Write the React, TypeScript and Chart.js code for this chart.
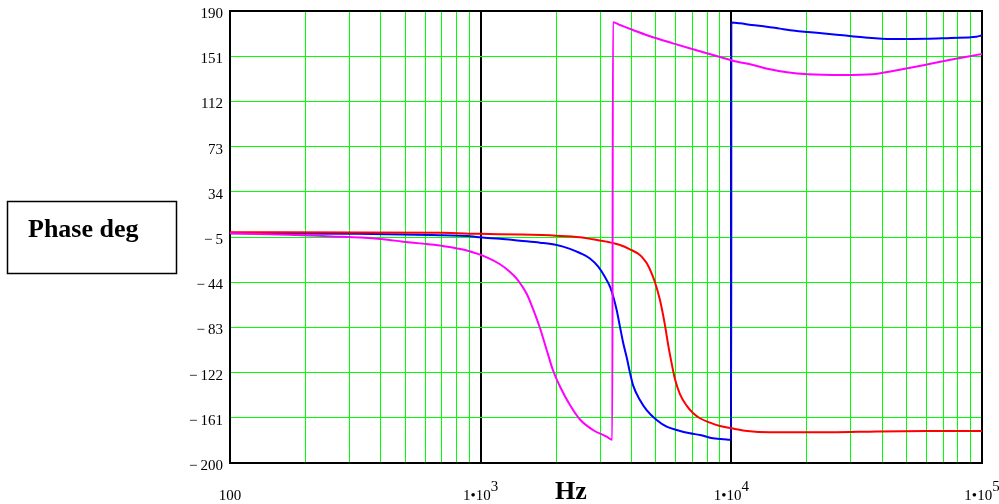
import React, { useEffect, useRef } from "react";
import { Chart, registerables } from "chart.js";

Chart.register(...registerables);

// ---- data ----
const magentaFreq = [100, 170, 255, 333, 408, 490, 573, 688, 790, 866, 949, 1069, 1194, 1300, 1392, 1526, 1617, 1724, 1834, 1943, 2072, 2271, 2490, 2805, 3181, 3350, 3371, 3595, 4051, 4868, 5850, 7028, 8446, 10148, 12196, 14257, 16668, 20209, 28000, 36712, 44113, 53014, 63711, 76549, 87063, 100000];
const magentaPhase = [-1.8, -3.0, -4.5, -5.5, -7.0, -9.0, -10.5, -12.3, -14.5, -16.2, -18.8, -23, -28.5, -34.5, -41, -54, -67, -83.5, -102.5, -120, -134, -150, -162.5, -171.5, -177.3, -180, 180.2, 177.9, 173.6, 167.3, 162.1, 157, 152, 147.1, 143.4, 139.7, 137.1, 135.4, 134.8, 135.4, 138.2, 141.4, 144.9, 148.3, 150.6, 152.9];

const blueFreq = [100, 324, 634, 932, 994, 1194, 1435, 1724, 2010, 2271, 2490, 2729, 2945, 3132, 3280, 3381, 3488, 3595, 3706, 3824, 3941, 4063, 4318, 4593, 5036, 5521, 6052, 6839, 7497, 8446, 9606, 9990, 10000, 10822, 12050, 13829, 15628, 17937, 20209, 23997, 27866, 33488, 43590, 60000, 75000, 95000, 100000];
const bluePhase = [-1.8, -2.2, -3.3, -4.5, -5.3, -6.5, -8.2, -9.9, -11.9, -15.2, -18.8, -23.5, -30.6, -39.5, -47.9, -56.5, -68, -82.4, -96.7, -108.8, -122, -133.5, -145.6, -154.3, -162.9, -168.7, -171.5, -174.4, -175.8, -178.7, -179.8, -180, 180, 179.4, 177.9, 176.5, 174.8, 173, 171.9, 170.4, 169, 167.3, 165.8, 166, 166.8, 167.8, 169];

const redFreq = [100, 700, 994, 1435, 2000, 2490, 2805, 3181, 3595, 3941, 4318, 4450, 4593, 4734, 4958, 5191, 5435, 5602, 5780, 5957, 6237, 6633, 7047, 7497, 8217, 9006, 10028, 11332, 14257, 25000, 38000, 60000, 100000];
const redPhase = [-0.9, -1.4, -2.3, -2.9, -3.9, -5.2, -7, -9, -11.9, -15.6, -20.5, -23.5, -27.5, -33, -44, -59.4, -81, -98.5, -114, -127.5, -140.5, -150.5, -157.1, -161.4, -165.2, -168.1, -170.1, -172.1, -173.5, -173.5, -172.8, -172.4, -172.4];

const yTickValues = [-200, -161, -122, -83, -44, -5, 34, 73, 112, 151, 190];
const xDecades = [100, 1000, 10000, 100000];
const xTickLabelBase = ["100", "1\u202210", "1\u202210", "1\u202210"];
const xTickLabelExp = ["", "3", "4", "5"];
const xTitle = "Hz";
const yTitle = "Phase deg";

const SERIF = '"Liberation Serif", "Times New Roman", serif';

const toPoints = (fx: number[], py: number[]) => fx.map((f, i) => ({ x: f, y: py[i] }));

const xGridValues: number[] = [];
for (let d = 0; d < xDecades.length - 1; d++) {
  for (let m = 1; m <= 9; m++) xGridValues.push(xDecades[d] * m);
}
xGridValues.push(xDecades[xDecades.length - 1]);

const overlayPlugin = {
  id: "overlay",
  beforeDatasetsDraw(chart: any) {
    const { ctx, chartArea } = chart;
    ctx.save();
    ctx.strokeStyle = "#000";
    ctx.lineWidth = 2;
    ctx.strokeRect(chartArea.left, chartArea.top, chartArea.right - chartArea.left, chartArea.bottom - chartArea.top);
    ctx.restore();
  },
  afterDraw(chart: any) {
    const { ctx } = chart;
    const xs = chart.scales.x;
    ctx.save();
    ctx.fillStyle = "#000";
    ctx.textBaseline = "alphabetic";
    ctx.textAlign = "left";
    ctx.font = "15px " + SERIF;
    xDecades.forEach((v, i) => {
      const px = xs.getPixelForValue(v);
      const base = xTickLabelBase[i];
      const exp = xTickLabelExp[i];
      const w1 = ctx.measureText(base).width;
      const w2 = exp ? ctx.measureText(exp).width : 0;
      const start = px - (w1 + w2) / 2;
      ctx.fillText(base, start, 500);
      if (exp) ctx.fillText(exp, start + w1, 491);
    });
    ctx.font = "bold 26px " + SERIF;
    ctx.textAlign = "center";
    ctx.fillText(xTitle, 571, 499);
    ctx.lineWidth = 1.5;
    ctx.strokeStyle = "#000";
    ctx.strokeRect(7.5, 201.5, 169, 72);
    ctx.textAlign = "left";
    ctx.fillText(yTitle, 28, 237);
    ctx.restore();
  },
};

export default function App() {
  const ref = useRef<HTMLCanvasElement>(null);
  useEffect(() => {
    if (!ref.current) return;
    const chart = new Chart(ref.current, {
      type: "line",
      data: {
        datasets: [
          { data: toPoints(magentaFreq, magentaPhase), borderColor: "#ff00ff", borderWidth: 2 },
          { data: toPoints(redFreq, redPhase), borderColor: "#ff0000", borderWidth: 2 },
          { data: toPoints(blueFreq, bluePhase), borderColor: "#0000ff", borderWidth: 2 },
        ] as any,
      },
      options: {
        responsive: false,
        animation: false,
        devicePixelRatio: 1,
        parsing: false as any,
        elements: {
          point: { radius: 0 },
          line: { tension: 0, fill: false, cubicInterpolationMode: "monotone" },
        },
        layout: { padding: { top: 11, right: 17, bottom: 0, left: 0 } },
        plugins: { legend: { display: false }, tooltip: { enabled: false } },
        scales: {
          x: {
            type: "logarithmic",
            min: 100,
            max: 100000,
            afterBuildTicks: (s: any) => {
              s.ticks = xGridValues.map((v) => ({ value: v }));
            },
            afterFit: (s: any) => {
              s.height = 41;
              s.paddingLeft = 0;
              s.paddingRight = 0;
            },
            ticks: { display: false },
            border: { display: false },
            grid: {
              drawTicks: false,
              color: (c: any) => {
                const v = c.tick ? c.tick.value : 0;
                if (v === 100 || v === 100000) return "rgba(0,0,0,0)";
                if (v === 1000 || v === 10000) return "#000000";
                return "#00ff00";
              },
              lineWidth: (c: any) => {
                const v = c.tick ? c.tick.value : 0;
                return v === 1000 || v === 10000 ? 2 : 1;
              },
            },
          },
          y: {
            type: "linear",
            min: -200,
            max: 190,
            afterBuildTicks: (s: any) => {
              s.ticks = yTickValues.map((v) => ({ value: v }));
            },
            afterFit: (s: any) => {
              s.width = 230;
              s.paddingTop = 0;
              s.paddingBottom = 0;
            },
            ticks: {
              color: "#000",
              font: { family: SERIF, size: 15 },
              padding: 7,
              labelOffset: 3,
              autoSkip: false,
              callback: (v: any) => (v < 0 ? "\u2212\u2009" + Math.abs(v) : String(v)),
            },
            border: { display: false },
            grid: {
              drawTicks: false,
              color: (c: any) => {
                const v = c.tick ? c.tick.value : 0;
                if (v === -200 || v === 190) return "rgba(0,0,0,0)";
                return "#00ff00";
              },
              lineWidth: 1,
            },
          },
        },
      } as any,
      plugins: [overlayPlugin],
    });
    return () => chart.destroy();
  }, []);
  return (
    <canvas
      ref={ref}
      width={999}
      height={504}
      style={{ position: "absolute", left: 0, top: 0, display: "block", background: "#fff" }}
    />
  );
}
